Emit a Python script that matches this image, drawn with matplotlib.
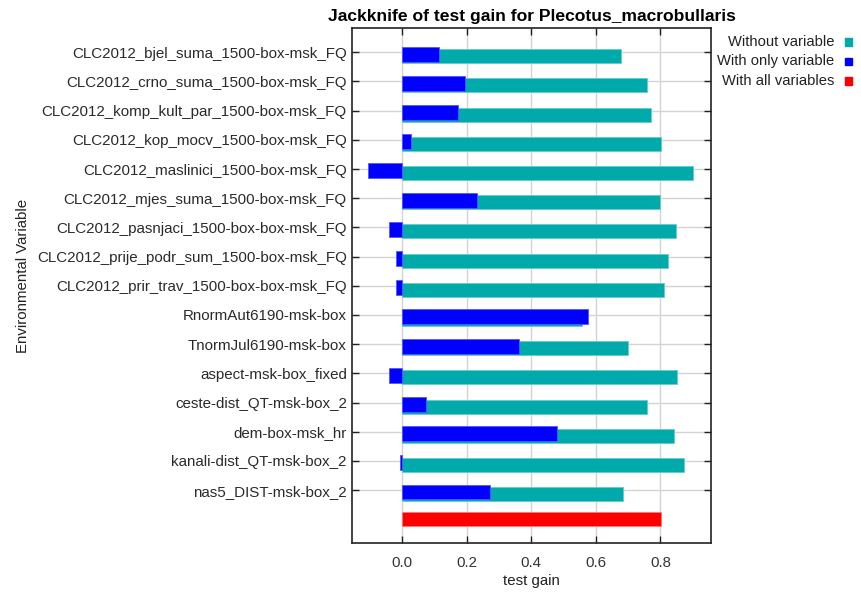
import matplotlib
matplotlib.use("Agg")
import matplotlib.pyplot as plt
import numpy as np

plt.rcParams['font.family'] = ['Liberation Sans', 'DejaVu Sans']

# Данные
variables = [
    "CLC2012_bjel_suma_1500-box-msk_FQ",
    "CLC2012_crno_suma_1500-box-msk_FQ",
    "CLC2012_komp_kult_par_1500-box-msk_FQ",
    "CLC2012_kop_mocv_1500-box-msk_FQ",
    "CLC2012_maslinici_1500-box-msk_FQ",
    "CLC2012_mjes_suma_1500-box-msk_FQ",
    "CLC2012_pasnjaci_1500-box-box-msk_FQ",
    "CLC2012_prije_podr_sum_1500-box-msk_FQ",
    "CLC2012_prir_trav_1500-box-box-msk_FQ",
    "RnormAut6190-msk-box",
    "TnormJul6190-msk-box",
    "aspect-msk-box_fixed",
    "ceste-dist_QT-msk-box_2",
    "dem-box-msk_hr",
    "kanali-dist_QT-msk-box_2",
    "nas5_DIST-msk-box_2",
]
without_var = [0.678, 0.760, 0.771, 0.801, 0.902, 0.799, 0.847, 0.825, 0.812,
               0.557, 0.700, 0.851, 0.757, 0.843, 0.873, 0.685]
only_var = [0.113, 0.195, 0.173, 0.026, -0.106, 0.233, -0.042, -0.020, -0.020,
            0.576, 0.362, -0.042, 0.074, 0.478, -0.008, 0.271]
all_vars = 0.801

title = "Jackknife of test gain for Plecotus_macrobullaris"
legend_labels = ["Without variable", "With only variable", "With all variables"]
c_without = "#00AAAA"
c_only = "#0000FF"
c_all = "#FF0000"

fig = plt.figure(figsize=(8.61, 5.92), dpi=100)
ax = fig.add_axes([0.4092, 0.0823, 0.4170, 0.8709])

pos = np.arange(len(variables))
ax.barh(pos + 0.137, without_var, height=0.48, color=c_without,
        edgecolor="#66CCCC", linewidth=0.6, zorder=2)
ax.barh(pos + 0.065, only_var, height=0.51, color=c_only,
        edgecolor="#5555FF", linewidth=0.6, zorder=3)
ax.barh([len(variables)], [all_vars], height=0.49, color=c_all,
        edgecolor="#FF7777", linewidth=0.6, zorder=3)

ax.set_xlim(-0.155, 0.958)
ax.set_ylim(16.82, -0.84)
ax.set_xticks([0.0, 0.2, 0.4, 0.6, 0.8])
ax.set_xticklabels(["0.0", "0.2", "0.4", "0.6", "0.8"], fontsize=10.8, color="#333333")
ax.set_yticks(pos)
ax.set_yticklabels(variables, fontsize=10.9, color="#2a2a2a")
ax.tick_params(axis="both", direction="in", length=5, width=1, color="#222222",
               top=True, right=True)
ax.tick_params(axis="y", pad=4)
ax.tick_params(axis="x", pad=9)
ax.grid(True, color="#D3D3D3", linewidth=1, zorder=0)
ax.set_axisbelow(True)
for s in ax.spines.values():
    s.set_color("#222222")
    s.set_linewidth(1.2)

ax.set_xlabel("test gain", fontsize=10.8, color="#222222", labelpad=3)
fig.text(0.027, 1 - 276 / 592, "Environmental Variable", rotation=90, fontsize=10.8,
         color="#222222", ha="center", va="center")
ax.set_title(title, fontsize=12.6, fontweight="bold", pad=5)

# Легенда
for i, (lab, col) in enumerate(zip(legend_labels, [c_without, c_only, c_all])):
    y = 1 - (42 + i * 19.5) / 592
    fig.text(834 / 861, y, lab, ha="right", va="center", fontsize=10.6, color="#222222")
    fig.patches.append(plt.Rectangle((845 / 861, y - 3.5 / 592), 7 / 861, 7 / 592,
                                     transform=fig.transFigure, color=col, figure=fig))

fig.savefig("out.png", dpi=100)
